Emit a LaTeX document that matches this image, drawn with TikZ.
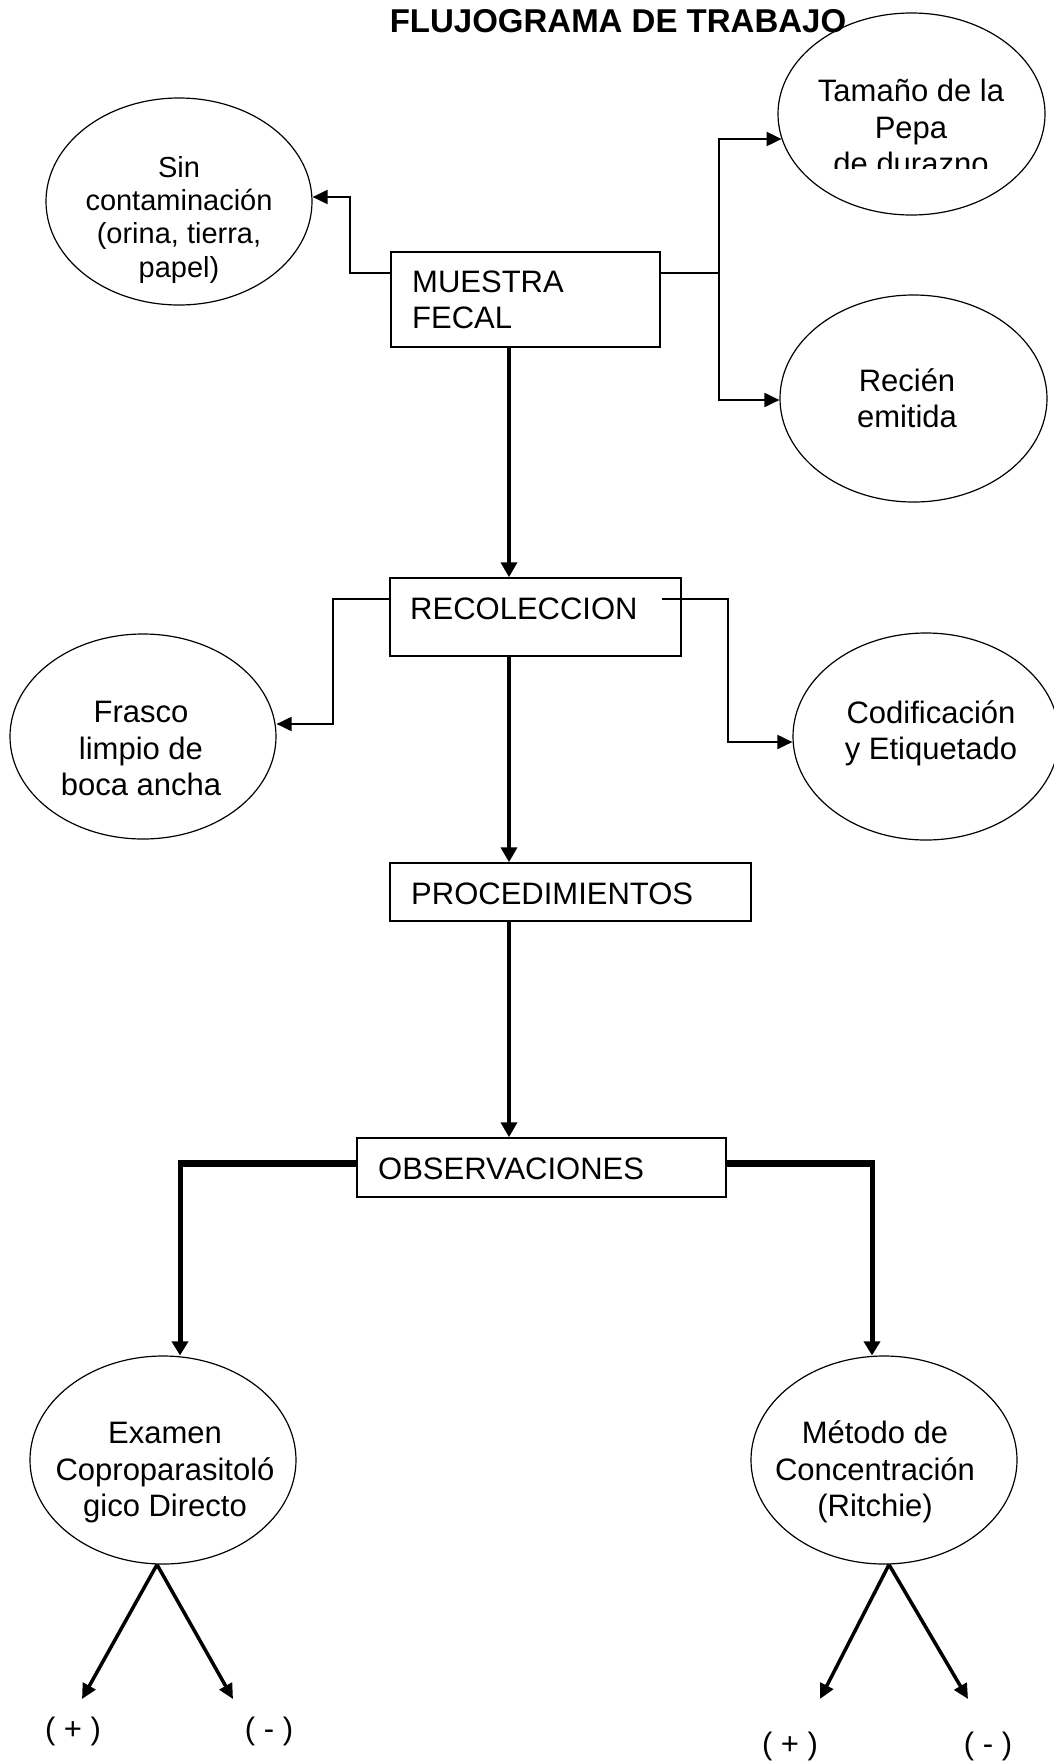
\documentclass[tikz,border=0pt]{standalone}
\usepackage{fontspec}
\setmainfont{Liberation Sans}
\usetikzlibrary{arrows.meta,shapes.geometric}
\begin{document}
\begin{tikzpicture}[x=1pt,y=-1pt,
  tx/.style={font=\fontsize{31}{36.5}\selectfont, inner sep=0pt, align=center},
  bx/.style={font=\fontsize{31}{36.5}\selectfont, inner sep=0pt, align=left},
  ell/.style={draw, ellipse, line width=1.2pt, inner sep=0pt},
  box/.style={draw, rectangle, line width=1.5pt, inner sep=0pt},
  thinln/.style={line width=2pt},
  conn/.style={line width=2pt, -{Triangle[length=15pt,width=14pt]}},
  mainconn/.style={line width=4.5pt, -{Triangle[length=15pt,width=16pt]}},
  branch/.style={line width=7pt},
  branchdown/.style={line width=5pt, -{Triangle[length=14pt,width=16pt]}},
  diag/.style={line width=3.5pt, -{Triangle[length=15pt,width=14pt]}}
]
\fill[white] (0,0) rectangle (1054,1764);
\useasboundingbox (0,0) rectangle (1054,1764);

% title
\node[font=\bfseries\fontsize{33}{38}\selectfont, anchor=base, inner sep=0pt] (title) at (618,32) {FLUJOGRAMA DE TRABAJO};

% boxes
\node[box, minimum width=269pt, minimum height=95pt] (muestra) at (525.5,299.5) {};
\node[bx, anchor=north west] (muestratx) at (412,266.5) {\strut MUESTRA\\\strut FECAL};
\node[box, minimum width=291pt, minimum height=78pt] (reco) at (535.5,617) {};
\node[bx, anchor=base west] (recotx) at (410,619) {RECOLECCION};
\node[box, minimum width=361pt, minimum height=58pt] (proc) at (570.5,892) {};
\node[bx, anchor=base west] (proctx) at (411,904) {PROCEDIMIENTOS};
\node[box, minimum width=369pt, minimum height=59pt] (obs) at (541.5,1167.5) {};
\node[bx, anchor=base west] (obstx) at (378,1179) {OBSERVACIONES};

% ellipses
\node[ell, minimum width=266pt, minimum height=207pt] (sin) at (179,201.5) {};
\node[tx, font=\fontsize{29}{33.3}\selectfont] (sintx) at (179,220.5) {\strut Sin\\\strut contaminación\\\strut (orina, tierra,\\\strut papel)};

\node[ell, minimum width=267pt, minimum height=202pt] (tam) at (911.5,114) {};
\begin{scope}
\clip (700,40) rectangle (1054,168);
\node[tx] (tamtx) at (911,131) {\strut Tamaño de la\\\strut Pepa\\\strut de durazno};
\end{scope}

\node[ell, minimum width=267pt, minimum height=207pt] (rec) at (913.5,398.5) {};
\node[tx] (rectx) at (907,402) {\strut Recién\\\strut emitida};

\node[ell, minimum width=266pt, minimum height=205pt] (fra) at (143,736.5) {};
\node[tx] (fratx) at (141,752) {\strut Frasco\\\strut limpio de\\\strut boca ancha};

\node[ell, minimum width=266pt, minimum height=207pt] (cod) at (926,736.5) {};
\node[tx] (codtx) at (931,734) {\strut Codificación\\\strut y Etiquetado};

\node[ell, minimum width=266pt, minimum height=208pt] (exa) at (163,1460) {};
\node[tx] (exatx) at (165,1473) {\strut Examen\\\strut Coproparasitoló\\\strut gico Directo};

\node[ell, minimum width=266pt, minimum height=208pt] (met) at (884,1460) {};
\node[tx] (mettx) at (875,1473) {\strut Método de\\\strut Concentración\\\strut (Ritchie)};

% result labels
\node[tx] (lp) at (73,1731) {( + )};
\node[tx] (lm) at (269,1731) {( - )};
\node[tx] (rp) at (790,1746) {( + )};
\node[tx] (rm) at (988,1746) {( - )};

% main vertical connectors
\coordinate (cx) at (509,0);
\draw[mainconn] (cx |- muestra.south) -- (cx |- reco.north);
\draw[mainconn] (cx |- reco.south) -- (cx |- proc.north);
\draw[mainconn] (cx |- proc.south) -- (cx |- obs.north);

% MUESTRA branches
\coordinate (a1) at (350,273);
\coordinate (a2) at (350,197);
\draw[conn] (muestra.west |- a1) -- (a1) -- (a2) -- (a2 -| sin.east);
\coordinate (b1) at (719,273);
\coordinate (b2) at (719,139);
\coordinate (b3) at (719,400);
\draw[thinln] (muestra.east |- b1) -- (b1);
\draw[conn] (b1) -- (b2) -- (b2 -| tam.191);
\draw[conn] (b1) -- (b3) -- (b3 -| rec.west);

% RECOLECCION branches
\coordinate (c1) at (333,599);
\coordinate (c2) at (333,724);
\draw[conn] (reco.west |- c1) -- (c1) -- (c2) -- (c2 -| fra.east);
\coordinate (d0) at (662,599);
\coordinate (d1) at (728,599);
\coordinate (d2) at (728,742);
\draw[conn] (d0) -- (d1) -- (d2) -- (d2 -| cod.west);

% OBSERVACIONES branches
\coordinate (e1) at (180,1163);
\coordinate (e0) at (177.5,1163);
\coordinate (f1) at (872,1163);
\coordinate (f0) at (874.5,1163);
\draw[branch] (obs.west |- e1) -- (e0);
\draw[branchdown] (e1) -- (e1 |- exa.north);
\draw[branch] (obs.east |- f1) -- (f0);
\draw[branchdown] (f1) -- (f1 |- met.north);

% results
\coordinate (g1) at (82,1699);
\coordinate (g2) at (233,1699);
\coordinate (h1) at (820,1699);
\coordinate (h2) at (968,1699);
\draw[diag] ([xshift=-6pt]exa.south) -- (g1);
\draw[diag] ([xshift=-6pt]exa.south) -- (g2);
\draw[diag] ([xshift=5pt]met.south) -- (h1);
\draw[diag] ([xshift=5pt]met.south) -- (h2);
\end{tikzpicture}
\end{document}
